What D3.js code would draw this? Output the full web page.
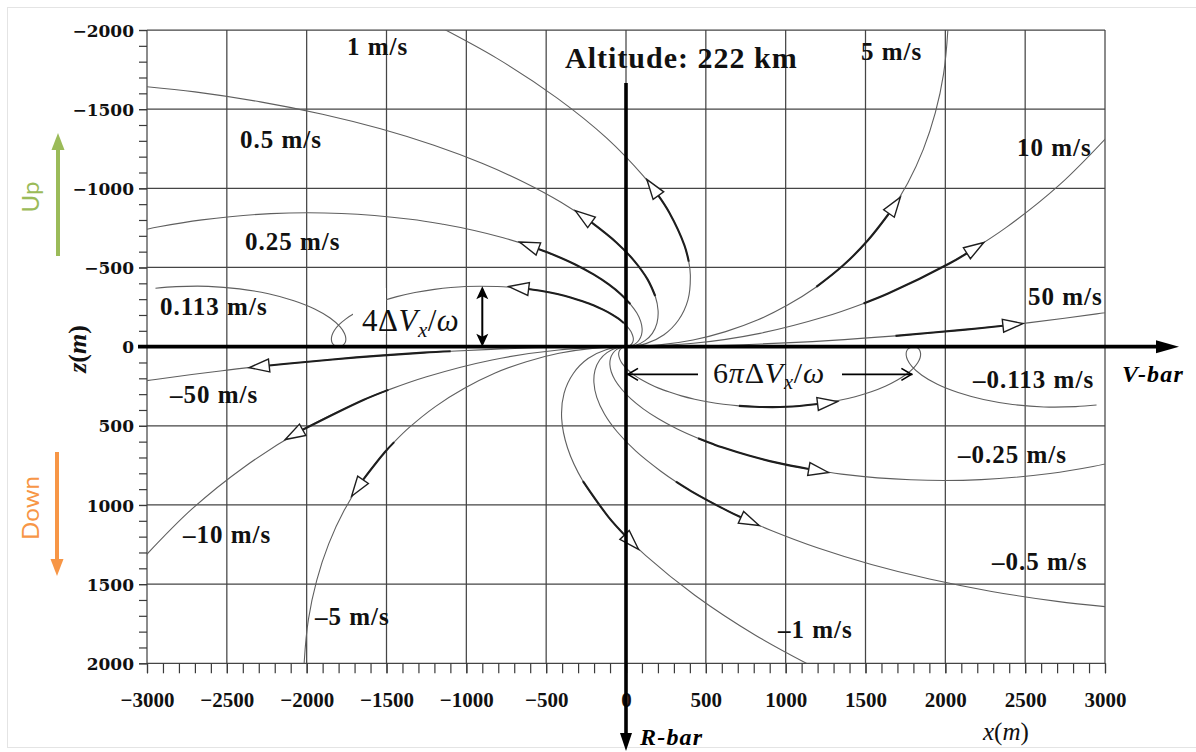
<!DOCTYPE html>
<html>
<head>
<meta charset="utf-8">
<script src="https://cdn.jsdelivr.net/npm/d3@7"></script>
<style>
  html, body { margin: 0; padding: 0; background: #fff; }
  svg { display: block; }
</style>
</head>
<body>
<svg id="chart" width="1196" height="752"></svg>
<script>
// ---- axis extents and ticks (metres) ----
const xDomain = [-3000, 3000];
const zDomain = [-2000, 2000];
const xMajor = [-3000, -2500, -2000, -1500, -1000, -500, 0, 500, 1000, 1500, 2000, 2500, 3000];
const zMajor = [-2000, -1500, -1000, -500, 0, 500, 1000, 1500, 2000];
const minorStep = 100;

// ---- relative-motion trajectories after an along-track impulse, [x, z] in metres ----
const trajP0113 = [[0,0],[14,-2],[27,-9],[37,-19],[44,-33],[46,-51],[41,-72],[31,-96],[12,-122],[-14,-149],[-49,-178],[-92,-206],[-144,-234],[-204,-262],[-272,-287],[-347,-311],[-430,-332],[-518,-350],[-610,-364],[-707,-374],[-806,-380],[-1006,-380],[-1200,-362],[-1322,-342],[-1435,-316],[-1536,-285],[-1624,-250],[-1697,-212],[-1756,-174],[-1799,-137],[-1827,-102],[-1842,-70],[-1845,-43],[-1839,-22],[-1826,-8],[-1812,-2],[-1800,0],[-1784,-3],[-1768,-13],[-1757,-30],[-1755,-54],[-1763,-83],[-1790,-125],[-1853,-181],[-1950,-238],[-2080,-290],[-2239,-334],[-2421,-365],[-2617,-381],[-2817,-379],[-2947,-369]];
const trajP025 = [[0,0],[31,-5],[60,-19],[82,-42],[97,-74],[101,-113],[92,-160],[68,-212],[27,-269],[-31,-330],[-108,-393],[-203,-456],[-318,-519],[-451,-579],[-549,-617],[-602,-636],[-769,-688],[-950,-734],[-1145,-773],[-1350,-805],[-1782,-841],[-2225,-840],[-2656,-801],[-2925,-757],[-3053,-729]];
const trajP05 = [[0,0],[62,-9],[119,-38],[165,-84],[194,-148],[201,-227],[183,-320],[135,-425],[54,-539],[-62,-660],[-216,-785],[-407,-912],[-636,-1037],[-902,-1158],[-1203,-1272],[-1537,-1376],[-1901,-1468],[-2290,-1546],[-2700,-1609],[-3127,-1654]];
const trajP1 = [[0,0],[125,-19],[238,-75],[329,-168],[388,-295],[403,-453],[393,-537],[366,-640],[270,-849],[203,-954],[108,-1078],[-124,-1320],[-431,-1570],[-813,-1824],[-1271,-2074]];
const trajP5 = [[0,0],[211,-11],[420,-42],[624,-95],[823,-168],[1012,-263],[1192,-377],[1359,-512],[1511,-667],[1647,-841],[1765,-1034],[1862,-1246],[1937,-1476],[1989,-1723],[2015,-1987],[2018,-2097]];
const trajP10 = [[0,0],[422,-21],[839,-84],[1249,-190],[1488,-273],[1645,-337],[2025,-525],[2135,-590],[2384,-755],[2718,-1025],[3022,-1334]];
const trajP50 = [[0,0],[423,-4],[845,-17],[1267,-38],[1688,-68],[2109,-106],[2361,-132],[2529,-152],[2948,-207],[3157,-238]];

const trajM0113 = [[0,0],[-14,2],[-27,9],[-37,19],[-44,33],[-46,51],[-41,72],[-31,96],[-12,122],[14,149],[49,178],[92,206],[144,234],[204,262],[272,287],[347,311],[430,332],[518,350],[610,364],[707,374],[806,380],[1006,380],[1200,362],[1322,342],[1435,316],[1536,285],[1624,250],[1697,212],[1756,174],[1799,137],[1827,102],[1842,70],[1845,43],[1839,22],[1826,8],[1812,2],[1800,0],[1784,3],[1768,13],[1757,30],[1755,54],[1763,83],[1790,125],[1853,181],[1950,238],[2080,290],[2239,334],[2421,365],[2617,381],[2817,379],[2947,369]];
const trajM025 = [[0,0],[-31,5],[-60,19],[-82,42],[-97,74],[-101,113],[-92,160],[-68,212],[-27,269],[31,330],[108,393],[203,456],[318,519],[451,579],[549,617],[602,636],[769,688],[950,734],[1145,773],[1350,805],[1782,841],[2225,840],[2656,801],[2925,757],[3053,729]];
const trajM05 = [[0,0],[-62,9],[-119,38],[-165,84],[-194,148],[-201,227],[-183,320],[-135,425],[-54,539],[62,660],[216,785],[313,853],[407,912],[636,1037],[720,1078],[902,1158],[1203,1272],[1537,1376],[1901,1468],[2290,1546],[2700,1609],[3127,1654]];
const trajM1 = [[0,0],[-125,19],[-238,75],[-329,168],[-388,295],[-403,453],[-366,640],[-270,849],[-108,1078],[-9,1189],[124,1320],[431,1570],[813,1824],[1271,2074]];
const trajM5 = [[0,0],[-211,11],[-420,42],[-624,95],[-823,168],[-1012,263],[-1192,377],[-1359,512],[-1452,603],[-1511,667],[-1647,841],[-1765,1034],[-1862,1246],[-1937,1476],[-1989,1723],[-2015,1987],[-2018,2097]];
const trajM10 = [[0,0],[-422,21],[-839,84],[-1249,190],[-1488,273],[-1645,337],[-2025,525],[-2384,755],[-2718,1025],[-3022,1334]];
const trajM50 = [[0,0],[-423,4],[-845,17],[-1098,29],[-1267,38],[-1688,68],[-2109,106],[-2235,119],[-2529,152],[-2948,207],[-3157,238]];

// impulse labels (m/s)
const dvLabels = ["0.113 m/s", "0.25 m/s", "0.5 m/s", "1 m/s", "5 m/s", "10 m/s", "50 m/s",
                  "\u20130.113 m/s", "\u20130.25 m/s", "\u20130.5 m/s", "\u20131 m/s", "\u20135 m/s", "\u201310 m/s", "\u201350 m/s"];
// highlighted arc on each path: [first point, point carrying the direction arrow]
const arcSpans = [[9,18],[8,14],[6,10],[6,9],[6,9],[4,7],[4,6],
                  [19,22],[13,18],[11,14],[7,9],[8,10],[4,6],[3,7]];
const trajectories = [trajP0113, trajP025, trajP05, trajP1, trajP5, trajP10, trajP50,
                      trajM0113, trajM025, trajM05, trajM1, trajM5, trajM10, trajM50];

// annotated dimensions (m)
const peakRise = { x: -900, z0: 0, z1: -382 };     // 4ΔVx/ω
const orbitDrift = { x0: 0, x1: 1800, z: 175 };    // 6πΔVx/ω

// ---- layout ----
const X0 = 147, X1 = 1105, Y0 = 30, Y1 = 663.3;
const x = d3.scaleLinear().domain(xDomain).range([X0, X1]);
const z = d3.scaleLinear().domain(zDomain).range([Y0, Y1]);
const serif = "'Liberation Serif', 'Times New Roman', serif";

const svg = d3.select("#chart");

// faint page border
svg.append("rect").attr("x", 7.5).attr("y", 7.5).attr("width", 1200).attr("height", 740)
  .attr("fill", "none").attr("stroke", "#e4e4e4").attr("stroke-width", 1);

// ---- grid ----
const grid = svg.append("g").attr("stroke", "#454545").attr("stroke-width", 1.25);
grid.selectAll("line.gx").data(xMajor).join("line").attr("class", "gx")
  .attr("x1", d => x(d)).attr("x2", d => x(d)).attr("y1", Y0).attr("y2", Y1);
grid.selectAll("line.gz").data(zMajor).join("line").attr("class", "gz")
  .attr("x1", X0).attr("x2", X1).attr("y1", d => z(d)).attr("y2", d => z(d));

// ---- axes: minor ticks ----
const styleTicks = g => {
  g.select(".domain").remove();
  g.selectAll("line").attr("stroke", "#3a3a3a").attr("stroke-width", 1.2);
};
svg.append("g").attr("transform", `translate(${X0},0)`)
  .call(d3.axisLeft(z).tickValues(d3.range(zDomain[0], zDomain[1] + 1, minorStep)).tickSize(8).tickFormat(""))
  .call(styleTicks);
svg.append("g").attr("transform", `translate(0,${Y1})`)
  .call(d3.axisBottom(x).tickValues(d3.range(xDomain[0], xDomain[1] + 1, minorStep)).tickSize(10).tickFormat(""))
  .call(styleTicks);

// ---- axes: labelled ticks ----
const fmt = d3.format("d");
const leftAxis = svg.append("g").attr("transform", `translate(${X0},0)`)
  .call(d3.axisLeft(z).tickValues(zMajor).tickSize(8).tickPadding(5).tickFormat(fmt))
  .call(styleTicks);
leftAxis.attr("font-family", "'DejaVu Serif', serif").attr("font-size", 17).attr("font-weight", "bold");
leftAxis.selectAll("text").attr("fill", "#111").attr("dy", "0.36em");

const bottomAxis = svg.append("g").attr("transform", `translate(0,${Y1})`)
  .call(d3.axisBottom(x).tickValues(xMajor).tickSize(10).tickPadding(19).tickFormat(fmt))
  .call(styleTicks);
bottomAxis.attr("font-family", serif).attr("font-size", 21).attr("font-weight", "bold");
bottomAxis.selectAll("text").attr("fill", "#111");

// ---- trajectories ----
svg.append("clipPath").attr("id", "plotClip").append("rect")
  .attr("x", X0).attr("y", Y0).attr("width", X1 - X0).attr("height", Y1 - Y0);

const path = d3.line().x(d => x(d[0])).y(d => z(d[1])).curve(d3.curveCatmullRom.alpha(0.5));
const plot = svg.append("g").attr("clip-path", "url(#plotClip)");

plot.selectAll("path.traj").data(trajectories).join("path").attr("class", "traj")
  .attr("d", path).attr("fill", "none").attr("stroke", "#5f5f5f").attr("stroke-width", 1.1);

plot.selectAll("path.arc").data(trajectories).join("path").attr("class", "arc")
  .attr("d", (t, i) => path(t.slice(arcSpans[i][0], arcSpans[i][1] + 1)))
  .attr("fill", "none").attr("stroke", "#1e1e1e").attr("stroke-width", 2.1);

// hollow direction arrows at the end of each highlighted arc
plot.selectAll("path.dir").data(trajectories).join("path").attr("class", "dir")
  .attr("d", (t, i) => {
    const k = arcSpans[i][1];
    const a = t[k - 1], b = t[k + 1], p = t[k];
    let dx = x(b[0]) - x(a[0]), dy = z(b[1]) - z(a[1]);
    const L = Math.hypot(dx, dy); dx /= L; dy /= L;
    const px = x(p[0]), py = z(p[1]);
    const len = 20, hw = 6.5;
    return `M${px + dx * len},${py + dy * len}L${px - dy * hw},${py + dx * hw}L${px + dy * hw},${py - dx * hw}Z`;
  })
  .attr("fill", "#fff").attr("stroke", "#1e1e1e").attr("stroke-width", 1.4).attr("stroke-linejoin", "miter");

// ---- V-bar and R-bar ----
const y0 = z(0), x0 = x(0);
svg.append("line").attr("x1", 138).attr("x2", 1160).attr("y1", y0).attr("y2", y0)
  .attr("stroke", "#000").attr("stroke-width", 3.6);
svg.append("path").attr("d", `M1179,${y0}L1156,${y0 - 6.5}L1156,${y0 + 6.5}Z`).attr("fill", "#000");
svg.append("line").attr("x1", x0).attr("x2", x0).attr("y1", 83).attr("y2", 737)
  .attr("stroke", "#000").attr("stroke-width", 3.6);
svg.append("path").attr("d", `M${x0},751L${x0 - 6},733L${x0 + 6},733Z`).attr("fill", "#000");

svg.append("text").attr("x", 1122).attr("y", 382).attr("font-family", serif).attr("font-size", 24)
  .attr("font-weight", "bold").attr("font-style", "italic").attr("letter-spacing", 1.2).text("V-bar");
svg.append("text").attr("x", 640).attr("y", 745).attr("font-family", serif).attr("font-size", 24)
  .attr("font-weight", "bold").attr("font-style", "italic").attr("letter-spacing", 1.2).text("R-bar");

// ---- impulse labels ----
const labelSpots = [[160,315],[245,250],[240,148],[347,55],[861,60],[1017,156],[1028,305],
                    [973,388],[958,463],[992,570],[778,638],[315,625],[183,543],[170,403]];
svg.append("g").attr("font-family", serif).attr("font-size", 25).attr("font-weight", "bold")
  .attr("letter-spacing", 1).attr("fill", "#111")
  .selectAll("text").data(dvLabels).join("text")
  .attr("x", (d, i) => labelSpots[i][0]).attr("y", (d, i) => labelSpots[i][1]).text(d => d);

// ---- title ----
svg.append("text").attr("x", 565).attr("y", 68).attr("font-family", serif).attr("font-size", 30)
  .attr("font-weight", "bold").attr("letter-spacing", 1).attr("fill", "#111").text("Altitude: 222 km");

// ---- 4ΔVx/ω dimension ----
function mathLabel(g, parts, size) {
  parts.forEach(p => {
    const s = g.append("tspan").text(p.t);
    if (p.i) s.attr("font-style", "italic");
    if (p.sub) s.attr("font-size", size * 0.68).attr("dy", size * 0.2);
    if (p.up) s.attr("dy", -size * 0.2);
  });
}
svg.append("rect").attr("x", 353).attr("y", 288).attr("width", 33).attr("height", 46).attr("fill", "#fff");
const lbl4 = svg.append("text").attr("x", 362).attr("y", 331).attr("font-family", serif).attr("font-size", 31)
  .attr("letter-spacing", 0.5).attr("fill", "#111");
mathLabel(lbl4, [{t: "4\u0394"}, {t: "V", i: 1}, {t: "x", i: 1, sub: 1}, {t: "/", up: 1}, {t: "\u03c9", i: 1}], 31);

const ax = x(peakRise.x), az0 = z(peakRise.z0), az1 = z(peakRise.z1);
svg.append("line").attr("x1", ax).attr("x2", ax).attr("y1", az0 - 3).attr("y2", az1 + 3)
  .attr("stroke", "#000").attr("stroke-width", 2);
svg.append("path").attr("d", `M${ax},${az1}L${ax - 6},${az1 + 13}L${ax},${az1 + 10}L${ax + 6},${az1 + 13}Z`).attr("fill", "#000");
svg.append("path").attr("d", `M${ax},${az0}L${ax - 6},${az0 - 13}L${ax},${az0 - 10}L${ax + 6},${az0 - 13}Z`).attr("fill", "#000");

// ---- 6πΔVx/ω dimension ----
const dy6 = z(orbitDrift.z), dxa = x(orbitDrift.x0), dxb = x(orbitDrift.x1);
const dimG = svg.append("g").attr("stroke", "#000").attr("stroke-width", 1.7).attr("fill", "none");
dimG.append("line").attr("x1", dxa + 1).attr("x2", 698).attr("y1", dy6).attr("y2", dy6);
dimG.append("path").attr("d", `M${dxa + 12},${dy6 - 6}L${dxa + 2},${dy6}L${dxa + 12},${dy6 + 6}`);
dimG.append("line").attr("x1", 842).attr("x2", dxb - 1).attr("y1", dy6).attr("y2", dy6);
dimG.append("path").attr("d", `M${dxb - 12},${dy6 - 6}L${dxb - 2},${dy6}L${dxb - 12},${dy6 + 6}`);
const lbl6 = svg.append("text").attr("x", 713).attr("y", 383).attr("font-family", serif).attr("font-size", 30)
  .attr("letter-spacing", 0.8).attr("fill", "#111");
mathLabel(lbl6, [{t: "6"}, {t: "\u03c0", i: 1}, {t: "\u0394"}, {t: "V", i: 1}, {t: "x", i: 1, sub: 1}, {t: "/", up: 1}, {t: "\u03c9", i: 1}], 30);

// ---- axis titles ----
const xt = svg.append("text").attr("x", 983).attr("y", 740).attr("font-family", serif).attr("font-size", 25).attr("fill", "#111");
mathLabel(xt, [{t: "x", i: 1}, {t: "("}, {t: "m", i: 1}, {t: ")"}], 25);
const zt = svg.append("text").attr("transform", "translate(86,349) rotate(-90)").attr("text-anchor", "middle")
  .attr("font-family", serif).attr("font-size", 26).attr("font-weight", "bold").attr("fill", "#111");
mathLabel(zt, [{t: "z", i: 1}, {t: "("}, {t: "m", i: 1}, {t: ")"}], 26);

// ---- up / down cues ----
const green = "#9bbb59", orange = "#f79646";
svg.append("line").attr("x1", 58).attr("x2", 58).attr("y1", 256).attr("y2", 147).attr("stroke", green).attr("stroke-width", 4);
svg.append("path").attr("d", "M58,133L51.5,150L64.5,150Z").attr("fill", green);
svg.append("text").attr("transform", "translate(39,197) rotate(-90)").attr("text-anchor", "middle")
  .attr("font-family", "Lato, 'Open Sans', sans-serif").attr("font-size", 24).attr("fill", green).text("Up");
svg.append("line").attr("x1", 57).attr("x2", 57).attr("y1", 452).attr("y2", 561).attr("stroke", orange).attr("stroke-width", 4);
svg.append("path").attr("d", "M57,576L50.5,559L63.5,559Z").attr("fill", orange);
svg.append("text").attr("transform", "translate(39,508) rotate(-90)").attr("text-anchor", "middle")
  .attr("font-family", "Lato, 'Open Sans', sans-serif").attr("font-size", 24).attr("fill", orange).text("Down");
</script>
</body>
</html>
